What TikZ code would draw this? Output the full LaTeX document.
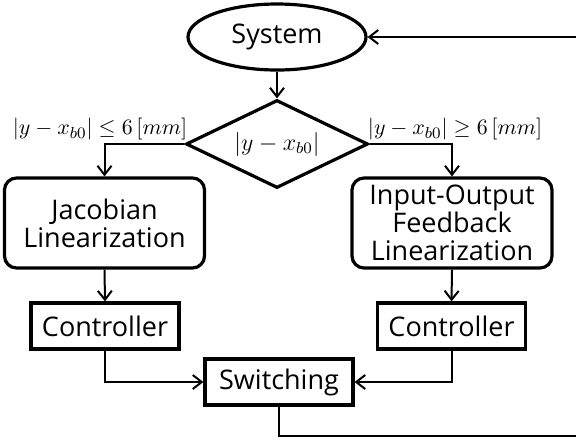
\documentclass[tikz,border=0pt]{standalone}
\usepackage{fontspec}
\newfontfamily\nodefont{Open Sans}
\usetikzlibrary{shapes.geometric,arrows.meta}
\begin{document}
\begin{tikzpicture}[x=0.5pt,y=-0.5pt,
  box/.style={draw,line width=1.6pt,inner sep=0pt,align=center,
    font=\nodefont\fontsize{13.5}{14}\selectfont},
  rbox/.style={box,rounded corners=6pt,minimum width=100pt,minimum height=45pt},
  cbox/.style={box,minimum width=74pt,minimum height=23pt},
  conn/.style={line width=1pt},
  arr/.style={conn,-{Straight Barb[length=4.5pt,width=7pt,line width=1pt]}},
  lbl/.style={inner sep=0pt,font=\fontsize{10.95}{13}\selectfont}]
\useasboundingbox (0,0) rectangle (576,440);
\clip (0,0) rectangle (576,440);
\node[box,ellipse,minimum width=89pt,minimum height=33pt] (sys) at (277,37) {System};
\node[draw,line width=1.6pt,diamond,aspect=2.07,inner sep=0pt,minimum width=91pt,minimum height=44pt,
      font=\fontsize{12}{14}\selectfont] (dia) at (277,144) {$\left|y-x_{b0}\right|$};
\node[rbox] (jac) at (104.5,223) {Jacobian\\Linearization};
\node[rbox] (iof) at (452,223) {Input-Output\\Feedback\\Linearization};
\node[cbox] (c1) at (105,326) {Controller};
\node[cbox] (c2) at (451.5,326) {Controller};
\node[cbox] (sw) at (279,382) {Switching};
\node[lbl] (l1) at (100,129) {$\left|y-x_{b0}\right|\leq 6\,[mm]$};
\node[lbl] (l2) at (455,129) {$\left|y-x_{b0}\right|\geq 6\,[mm]$};
\coordinate (b1) at (279,436);
\coordinate (b2) at (600,436);
\coordinate (b3) at (600,37);
\draw[arr] (sys.south) -- (dia.north);
\draw[arr] (dia.west) -| (jac.north);
\draw[arr] (dia.east) -| (iof.north);
\draw[arr] (jac.south) -- (c1.north);
\draw[arr] (iof.south) -- (c2.north);
\draw[arr] (c1.south) |- (sw.west);
\draw[arr] (c2.south) |- (sw.east);
\draw[arr] (sw.south) -- (b1) -- (b2) -- (b3) -- (sys.east);
\end{tikzpicture}
\end{document}
